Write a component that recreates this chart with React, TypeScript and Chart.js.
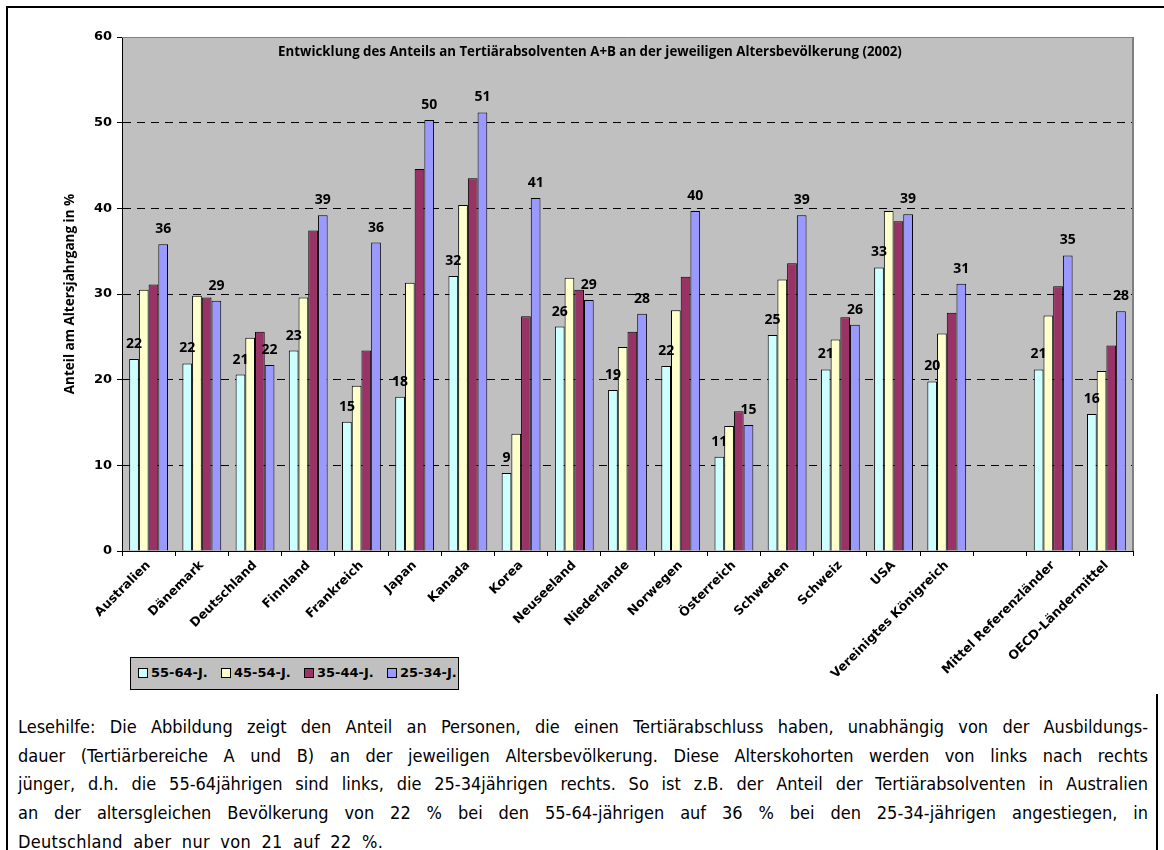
import React, { useEffect, useRef } from "react";
import { Chart, registerables } from "chart.js";

Chart.register(...registerables);

const categories = [
  "Australien", "Dänemark", "Deutschland", "Finnland", "Frankreich", "Japan", "Kanada", "Korea",
  "Neuseeland", "Niederlande", "Norwegen", "Österreich", "Schweden", "Schweiz", "USA",
  "Vereinigtes Königreich", "", "Mittel Referenzländer", "OECD-Ländermittel",
];

const seriesLabels = ["55-64-J.", "45-54-J.", "35-44-J.", "25-34-J."];

const age55_64 = [22.4, 21.9, 20.6, 23.4, 15.1, 18.0, 32.1, 9.1, 26.2, 18.8, 21.6, 11.0, 25.2, 21.2, 33.1, 19.8, null, 21.2, 16.0];
const age45_54 = [30.5, 29.8, 24.9, 29.6, 19.3, 31.3, 40.4, 13.7, 31.9, 23.8, 28.1, 14.6, 31.7, 24.7, 39.7, 25.4, null, 27.5, 21.0];
const age35_44 = [31.1, 29.6, 25.6, 37.4, 23.4, 44.6, 43.5, 27.4, 30.5, 25.6, 32.0, 16.3, 33.6, 27.3, 38.5, 27.8, null, 30.9, 24.0];
const age25_34 = [35.8, 29.2, 21.7, 39.2, 36.0, 50.3, 51.2, 41.2, 29.3, 27.7, 39.7, 14.7, 39.2, 26.4, 39.3, 31.2, null, 34.5, 28.0];

const seriesColors = ["#CCFFFF", "#FFFFCC", "#993366", "#9999FF"];

const yTicks = [0, 10, 20, 30, 40, 50, 60];

const chartTitle = "Entwicklung des Anteils an Tertiärabsolventen A+B an der jeweiligen Altersbevölkerung (2002)";
const yTitle = "Anteil am Altersjahrgang in %";

const noteLines = [
  "Lesehilfe: Die Abbildung zeigt den Anteil an Personen, die einen Tertiärabschluss haben, unabhängig von der Ausbildungs-",
  "dauer (Tertiärbereiche A und B) an der jeweiligen Altersbevölkerung. Diese Alterskohorten werden von links nach rechts",
  "jünger, d.h. die 55-64jährigen sind links, die 25-34jährigen rechts. So ist z.B. der Anteil der Tertiärabsolventen in Australien",
  "an der altersgleichen Bevölkerung von 22 % bei den 55-64-jährigen auf 36 % bei den 25-34-jährigen angestiegen, in",
  "Deutschland aber nur von 21 auf 22 %.",
];

const W = 1164;
const CH = 700;

export default function App() {
  const ref = useRef<HTMLCanvasElement | null>(null);

  useEffect(() => {
    const canvas = ref.current;
    if (!canvas) return;
    const values = [age55_64, age45_54, age35_44, age25_34];

    const bgPlugin = {
      id: "plotBg",
      beforeDraw(chart: any) {
        const { ctx, chartArea: a } = chart;
        ctx.save();
        ctx.fillStyle = "#C0C0C0";
        ctx.fillRect(a.left, a.top, a.right - a.left, a.bottom - a.top);
        ctx.restore();
      },
      afterDraw(chart: any) {
        const { ctx, chartArea: a } = chart;
        ctx.save();
        ctx.strokeStyle = "#808080";
        ctx.lineWidth = 1;
        ctx.beginPath();
        ctx.moveTo(a.left, a.top + 0.5);
        ctx.lineTo(a.right, a.top + 0.5);
        ctx.stroke();
        ctx.lineWidth = 2;
        ctx.beginPath();
        ctx.moveTo(a.right, a.top);
        ctx.lineTo(a.right, a.bottom);
        ctx.stroke();
        ctx.fillStyle = "#000";
        ctx.font = "bold 13.3px 'Open Sans'";
        ctx.textAlign = "center";
        ctx.textBaseline = "middle";
        ctx.fillText(chartTitle, a.left + 468, a.top + 15);
        ctx.restore();
      },
      afterDatasetsDraw(chart: any) {
        const { ctx } = chart;
        ctx.save();
        ctx.fillStyle = "#000";
        ctx.font = "bold 14px 'Open Sans'";
        ctx.textAlign = "center";
        ctx.textBaseline = "middle";
        [0, 3].forEach((di) => {
          const meta = chart.getDatasetMeta(di);
          meta.data.forEach((el: any, i: number) => {
            const v = chart.data.datasets[di].data[i];
            if (v == null) return;
            ctx.fillText(String(Math.round(v)), el.x, el.y - 15);
          });
        });
        ctx.restore();
      },
    };

    const chart = new Chart(canvas, {
      type: "bar",
      data: {
        labels: categories,
        datasets: seriesLabels.map((l, i) => ({
          label: l,
          data: values[i],
          backgroundColor: seriesColors[i],
          borderColor: "#000",
          borderWidth: 1,
          barPercentage: 1,
          categoryPercentage: 0.73,
        })),
      },
      options: {
        responsive: false,
        animation: false,
        devicePixelRatio: 1,
        layout: { padding: { top: 37, right: W - 1133, bottom: 0, left: 0 } },
        plugins: {
          legend: { display: false },
          tooltip: { enabled: false },
        },
        scales: {
          x: {
            afterFit: (s: any) => { s.height = CH - 551; },
            grid: {
              offset: true,
              drawOnChartArea: false,
              drawTicks: true,
              tickLength: 5,
              color: "#000",
            },
            border: { color: "#000", width: 1 },
            ticks: {
              autoSkip: false,
              minRotation: 45,
              maxRotation: 45,
              padding: 2,
              color: "#000",
              font: { family: "'DejaVu Sans'", size: 12.5, weight: "bold" },
            },
          },
          y: {
            min: 0,
            max: 60,
            afterFit: (s: any) => { s.width = 122; },
            afterBuildTicks: (s: any) => { s.ticks = yTicks.map((v) => ({ value: v })); },
            grid: {
              color: (c: any) => (c.tick && (c.tick.value === 0 || c.tick.value === 60) ? "rgba(0,0,0,0)" : "#000"),
              tickColor: "#000",
              tickLength: 5,
              lineWidth: 1,
            },
            border: { color: "#000", width: 1, dash: [8, 6] },
            ticks: {
              padding: 5,
              color: "#000",
              font: { family: "'DejaVu Sans'", size: 13, weight: "bold" },
            },
            title: {
              display: true,
              text: yTitle,
              color: "#000",
              font: { family: "'Open Sans'", size: 13.5, weight: "bold" },
              padding: { top: 62, bottom: 0 },
            },
          },
        },
      },
      plugins: [bgPlugin],
    } as any);

    return () => chart.destroy();
  }, []);

  return (
    <div style={{ position: "absolute", left: 0, top: 0, width: W, height: 850, overflow: "hidden", background: "#fff" }}>
      <div style={{ position: "absolute", left: 6, top: 6, width: W - 6, height: 2, background: "#000" }} />
      <div style={{ position: "absolute", left: 6, top: 6, width: 2, height: 850, background: "#000" }} />
      <div style={{ position: "absolute", left: 1156, top: 694, width: 2, height: 160, background: "#000" }} />
      <canvas ref={ref} width={W} height={CH} style={{ position: "absolute", left: 0, top: 0, width: W, height: CH }} />
      <div
        style={{
          position: "absolute", left: 130, top: 657, width: 327, height: 31,
          background: "#C0C0C0", border: "1px solid #000",
          fontFamily: "'DejaVu Sans'", fontWeight: "bold", fontSize: 13, color: "#000",
        }}
      >
        {seriesLabels.map((l, i) => (
          <div key={l} style={{ position: "absolute", left: 7 + i * 83, top: 7, display: "flex", alignItems: "center" }}>
            <span style={{ display: "inline-block", width: 8, height: 8, background: seriesColors[i], border: "1px solid #000", marginRight: 3 }} />
            <span>{l}</span>
          </div>
        ))}
      </div>
      <div style={{ position: "absolute", left: 18, top: 713, width: 1130, fontFamily: "'DejaVu Sans Condensed', 'Liberation Sans Narrow', sans-serif", fontSize: 18, lineHeight: "28.7px", color: "#000" }}>
        {noteLines.map((t, i) => {
          const last = i === noteLines.length - 1;
          return (
            <div
              key={i}
              style={{
                textAlign: last ? "left" : "justify",
                textAlignLast: last ? "left" : "justify",
                whiteSpace: "nowrap" as any,
                wordSpacing: last ? "5px" : undefined,
                letterSpacing: last ? "0.3px" : undefined,
              }}
            >
              {t}
            </div>
          );
        })}
      </div>
    </div>
  );
}
